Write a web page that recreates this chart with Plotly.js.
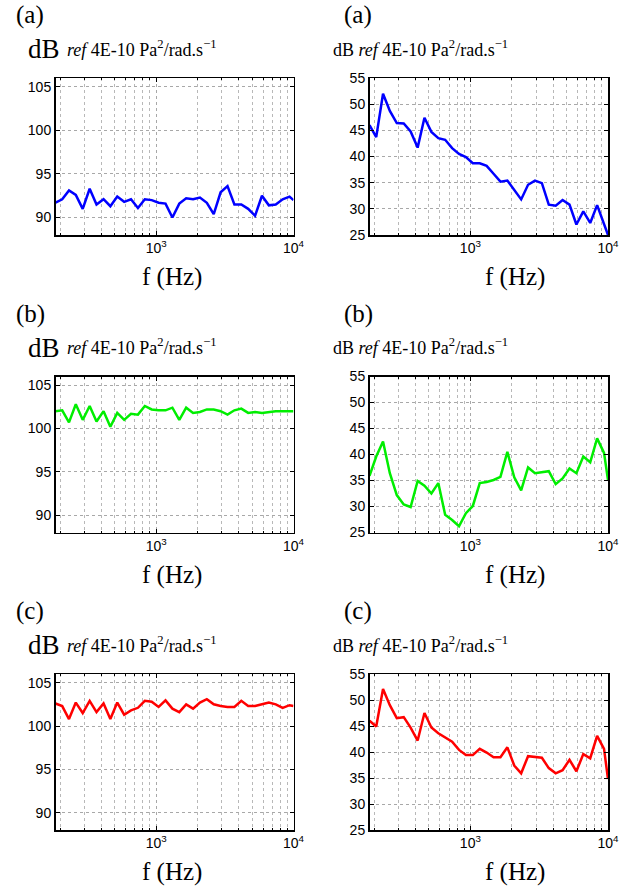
<!DOCTYPE html>
<html>
<head>
<meta charset="utf-8">
<script src="https://cdn.plot.ly/plotly-3.0.1.min.js"></script>
<style>
  html, body { margin: 0; padding: 0; background: #fff; }
  #chart { width: 642px; height: 892px; }
</style>
</head>
<body>
<div id="chart"></div>
<script>
// Frequencies (Hz), 1/6-octave spaced points
const freqHz = [185, 207, 232, 260, 292, 328, 368, 414, 464, 521, 585, 656, 737, 827, 928,
  1042, 1170, 1313, 1474, 1654, 1857, 2084, 2339, 2626, 2947, 3308, 3713, 4168, 4678,
  5251, 5894, 6616, 7427, 8336, 9357, 10000];

// Left column (dB)
const leftA = [91.7, 92.1, 93.1, 92.6, 91.0, 93.3, 91.5, 92.1, 91.3, 92.4, 91.8, 92.1, 91.1, 92.1, 92.0,
  91.7, 91.6, 90.0, 91.6, 92.2, 92.1, 92.3, 91.7, 90.4, 92.9, 93.6, 91.5, 91.5, 91.0, 90.2,
  92.5, 91.4, 91.5, 92.1, 92.4, 92.0];
const leftB = [102.0, 102.1, 100.7, 102.8, 101.0, 102.6, 100.8, 102.0, 100.2, 101.8, 101.0, 101.7, 101.6, 102.6, 102.2,
  102.1, 102.1, 102.4, 101.0, 102.4, 101.8, 101.9, 102.2, 102.2, 102.0, 101.6, 102.1, 102.3, 101.8, 101.9,
  101.8, 101.9, 102.0, 102.0, 102.0, 102.0];
const leftC = [102.6, 102.3, 100.8, 102.7, 101.5, 102.9, 101.6, 102.6, 100.8, 102.7, 101.3, 101.8, 102.1, 102.9, 102.8,
  102.2, 102.95, 102.0, 101.6, 102.5, 102.0, 102.7, 103.1, 102.5, 102.3, 102.2, 102.2, 102.9, 102.3, 102.3,
  102.5, 102.7, 102.5, 102.1, 102.4, 102.3];

// Right column (dB)
const rightA = [46.0, 43.7, 52.0, 48.7, 46.4, 46.3, 44.8, 41.7, 47.4, 44.7, 43.5, 43.2, 41.6, 40.5, 39.9,
  38.7, 38.7, 38.2, 36.7, 35.2, 35.4, 33.5, 31.8, 34.6, 35.4, 34.9, 30.8, 30.6, 31.7, 30.8,
  27.0, 29.5, 27.3, 30.7, 27.1, 25.0];
const rightB = [35.9, 39.6, 42.5, 36.4, 32.2, 30.4, 29.9, 34.9, 34.0, 32.5, 34.5, 28.4, 27.4, 26.2, 28.7,
  30.1, 34.5, 34.7, 35.1, 35.7, 40.5, 35.6, 33.1, 37.5, 36.4, 36.6, 36.8, 34.3, 35.4, 37.3,
  36.4, 39.6, 38.5, 43.1, 40.3, 35.1];
const rightC = [46.0, 44.9, 52.1, 49.0, 46.5, 46.7, 44.7, 42.2, 47.5, 44.7, 43.6, 42.8, 42.0, 40.4, 39.4,
  39.4, 40.6, 39.9, 39.0, 39.0, 40.9, 37.4, 35.9, 39.2, 39.0, 38.9, 36.9, 35.9, 36.5, 38.5,
  36.3, 39.6, 38.8, 43.1, 40.6, 34.8];

// Tick labels
const xMajorVals = [1000, 10000];
const xMajorText = ['10<sup>3</sup>', '10<sup>4</sup>'];
const xMinorVals = [200, 300, 400, 500, 600, 700, 800, 900, 2000, 3000, 4000, 5000, 6000, 7000, 8000, 9000];
const leftYTicks = [90, 95, 100, 105];
const rightYTicks = [25, 30, 35, 40, 45, 50, 55];
const panelLabels = ['(a)', '(b)', '(c)'];
const unitRest = '<i>ref</i> 4E-10 Pa<sup>2</sup>/rad.s<sup>\u22121</sup>';
const xLabel = 'f (Hz)';

const W = 642, H = 892;
const colX = [[55.5, 293.5], [369.5, 608]];
const rowY = [[78, 235], [376.5, 532.5], [674, 830]];
const colors = ['#0000ff', '#00ee00', '#ff0000'];
const leftData = [leftA, leftB, leftC];
const rightData = [rightA, rightB, rightC];

const serif = 'Liberation Serif, Times New Roman, serif';
const sans = 'Liberation Sans, Arial, Helvetica, sans-serif';

const traces = [];
const layout = {
  width: W, height: H,
  margin: {l: 0, r: 0, t: 0, b: 0},
  paper_bgcolor: '#fff', plot_bgcolor: '#fff',
  showlegend: false,
  annotations: []
};

function xAxisDef(domain, anchor) {
  return {
    type: 'log', domain: domain, anchor: anchor,
    range: [Math.log10(185), 4],
    tickmode: 'array', tickvals: xMajorVals, ticktext: xMajorText,
    ticks: 'inside', ticklen: 4, tickcolor: '#000',
    showline: true, linecolor: '#000', linewidth: 1.5, mirror: 'ticks',
    showgrid: true, gridcolor: '#a8a8a8', griddash: 'dot', gridwidth: 1,
    minor: {tickmode: 'array', tickvals: xMinorVals, ticks: 'inside', ticklen: 2, tickcolor: '#000',
            showgrid: true, gridcolor: '#b8b8b8', griddash: 'dot', gridwidth: 1},
    zeroline: false,
    tickfont: {family: sans, size: 14, color: '#000'}
  };
}
function yAxisDef(domain, anchor, range, ticks) {
  return {
    domain: domain, anchor: anchor, range: range,
    tickmode: 'array', tickvals: ticks,
    ticks: 'inside', ticklen: 4, tickcolor: '#000',
    showline: true, linecolor: '#000', linewidth: 1.5, mirror: 'ticks',
    showgrid: true, gridcolor: '#a8a8a8', griddash: 'dot', gridwidth: 1,
    zeroline: false,
    tickfont: {family: sans, size: 14, color: '#000'}
  };
}

let n = 0;
for (let r = 0; r < 3; r++) {
  const yd = [1 - rowY[r][1] / H, 1 - rowY[r][0] / H];
  for (let c = 0; c < 2; c++) {
    n++;
    const xd = [colX[c][0] / W, colX[c][1] / W];
    const xa = n === 1 ? 'xaxis' : 'xaxis' + n;
    const ya = n === 1 ? 'yaxis' : 'yaxis' + n;
    const xr = n === 1 ? 'x' : 'x' + n;
    const yr = n === 1 ? 'y' : 'y' + n;
    layout[xa] = xAxisDef(xd, yr);
    layout[ya] = c === 0 ? yAxisDef(yd, xr, [88, 106], leftYTicks)
                         : yAxisDef(yd, xr, [25, 55], rightYTicks);
    traces.push({
      x: freqHz, y: c === 0 ? leftData[r] : rightData[r],
      xaxis: xr, yaxis: yr, type: 'scatter', mode: 'lines',
      line: {color: colors[r], width: 2.5}, hoverinfo: 'skip'
    });

    const top = rowY[r][0], bot = rowY[r][1];
    layout.annotations.push({
      xref: 'paper', yref: 'paper', x: (c === 0 ? 14 : 342) / W, y: 1 - (top - 63) / H,
      xanchor: 'left', yanchor: 'middle', showarrow: false,
      text: panelLabels[r], font: {family: serif, size: 25, color: '#000'}
    });
    if (c === 0) {
      layout.annotations.push({
        xref: 'paper', yref: 'paper', x: 26 / W, y: 1 - (top - 29) / H,
        xanchor: 'left', yanchor: 'middle', showarrow: false,
        text: 'dB', font: {family: serif, size: 27, color: '#000'}
      });
      layout.annotations.push({
        xref: 'paper', yref: 'paper', x: 65 / W, y: 1 - (top - 30) / H,
        xanchor: 'left', yanchor: 'middle', showarrow: false,
        text: unitRest, font: {family: serif, size: 18, color: '#000'}
      });
    } else {
      layout.annotations.push({
        xref: 'paper', yref: 'paper', x: 331 / W, y: 1 - (top - 30) / H,
        xanchor: 'left', yanchor: 'middle', showarrow: false,
        text: 'dB ' + unitRest, font: {family: serif, size: 18, color: '#000'}
      });
    }
    layout.annotations.push({
      xref: 'paper', yref: 'paper', x: (c === 0 ? 172 : 515) / W, y: 1 - (bot + 42) / H,
      xanchor: 'center', yanchor: 'middle', showarrow: false,
      text: xLabel, font: {family: serif, size: 25, color: '#000'}
    });
  }
}

Plotly.newPlot('chart', traces, layout, {staticPlot: true, displayModeBar: false});
</script>
</body>
</html>
